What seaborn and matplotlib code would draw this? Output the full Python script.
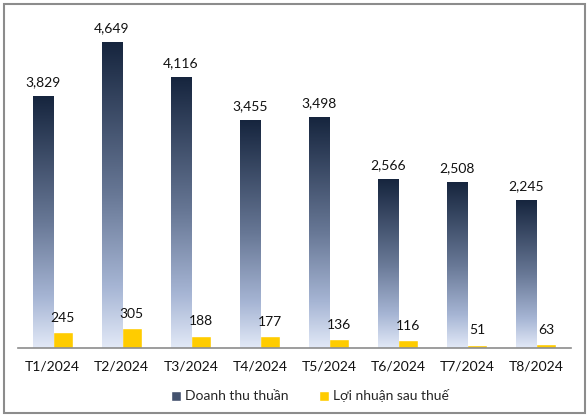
import numpy as np
import pandas as pd
import seaborn as sns
import matplotlib.pyplot as plt
from matplotlib.colors import LinearSegmentedColormap
from matplotlib.patches import Rectangle, Patch

months = ["T1/2024", "T2/2024", "T3/2024", "T4/2024", "T5/2024", "T6/2024", "T7/2024", "T8/2024"]
doanh_thu = [3829, 4649, 4116, 3455, 3498, 2566, 2508, 2245]
loi_nhuan = [245, 305, 188, 177, 136, 116, 51, 63]
series = ["Doanh thu thuần", "Lợi nhuận sau thuế"]

df = pd.DataFrame({
    "month": months * 2,
    "value": doanh_thu + loi_nhuan,
    "series": [series[0]] * len(months) + [series[1]] * len(months),
})

sns.set_style("white")
plt.rcParams["font.family"] = ["Lato", "DejaVu Sans"]

navy = "#1a2a45"
yellow = "#ffcc00"
grad = LinearSegmentedColormap.from_list(
    "dt", [(0, "#16253e"), (0.5, "#687896"), (0.8, "#a6b5d4"), (1, "#e2e9f7")])

fig = plt.figure(figsize=(5.88, 4.2), dpi=100)
ax = fig.add_axes([18 / 588, 72 / 420, 553 / 588, 329 / 420])

sns.barplot(data=df, x="month", y="value", hue="series", palette=[navy, yellow],
            width=0.58, gap=0, ax=ax, legend=False, errorbar=None, saturation=1)

# gradient fill for the revenue bars
img = np.linspace(0, 1, 256).reshape(-1, 1)
for p in ax.patches[:len(months)]:
    x0, y0 = p.get_x(), p.get_y()
    w, h = p.get_width(), p.get_height()
    ax.imshow(img, cmap=grad, aspect="auto", extent=(x0, x0 + w, y0, y0 + h),
              origin="upper", zorder=p.get_zorder(), interpolation="bilinear")
    p.set_facecolor("none")
    p.set_edgecolor("none")
ax.set_xlim(-0.5, 7.5)
ax.set_ylim(0, 5000)

for cont in ax.containers:
    ax.bar_label(cont, labels=[f"{v:,.0f}" for v in cont.datavalues],
                 padding=6, fontsize=10, color="#111111")

for s in ["top", "right", "left"]:
    ax.spines[s].set_visible(False)
ax.spines["bottom"].set_color("#8c8c8c")
ax.spines["bottom"].set_linewidth(1.2)
ax.set_yticks([])
ax.set_xlabel("")
ax.set_ylabel("")
ax.set_xticks(range(len(months)))
ax.set_xticklabels(months, fontsize=10, color="#111111")
ax.set_xticks(np.arange(-0.5, 8, 1), minor=True)
ax.tick_params(axis="x", which="major", length=0, pad=9)
ax.tick_params(axis="x", which="minor", length=4, width=1.2, color="#8c8c8c")

handles = [Patch(facecolor="#44526e"), Patch(facecolor=yellow)]
fig.legend(handles, series, loc="center", bbox_to_anchor=(0.527, 24 / 420), ncol=2,
           frameon=False, fontsize=10, handlelength=0.7, handleheight=0.7,
           handletextpad=0.3, columnspacing=2.2)

fig.patches.append(Rectangle((4 / 588, 7 / 420), 581 / 588, 409 / 420,
                             transform=fig.transFigure, fill=False,
                             edgecolor="#8c8c8c", linewidth=1.5))

fig.savefig("out.png", dpi=100)
